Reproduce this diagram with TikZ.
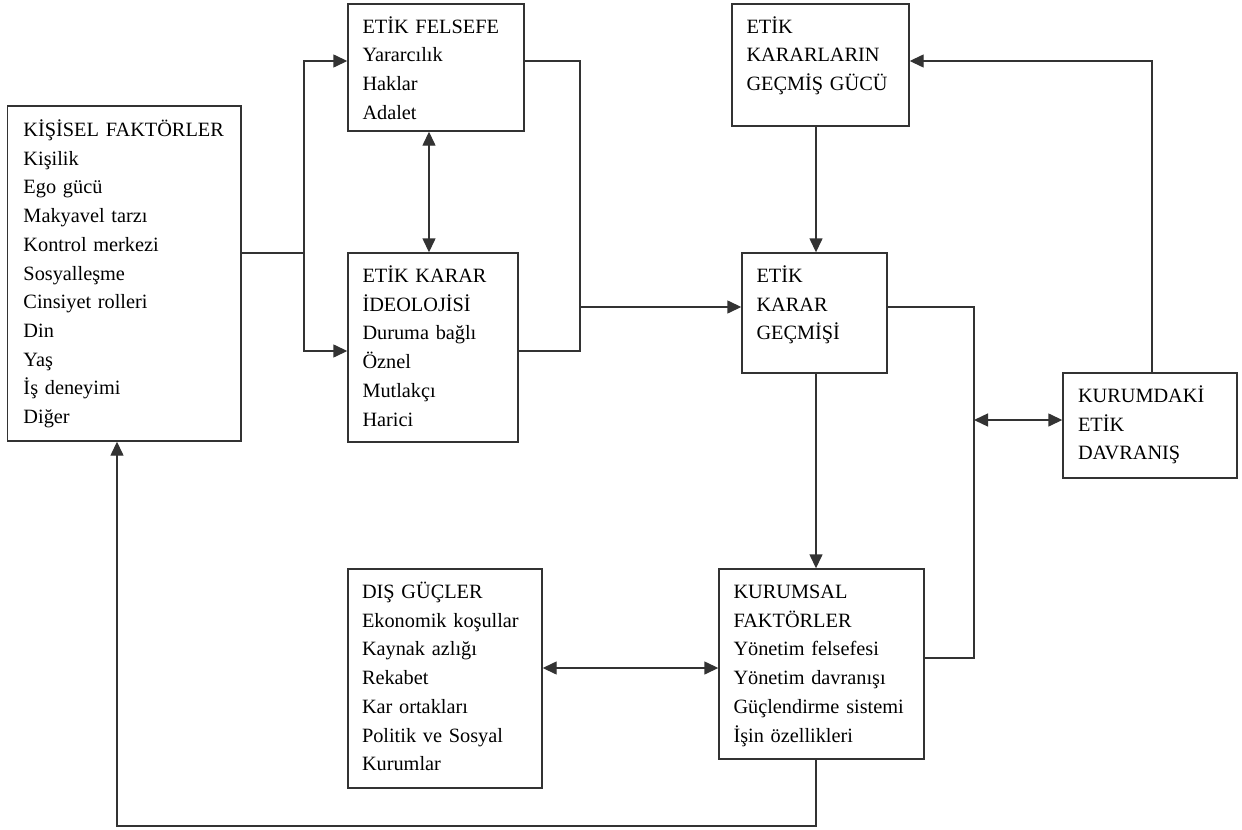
\documentclass[tikz,border=0pt]{standalone}
\usepackage{fontspec}
\setmainfont{Liberation Serif}
\usetikzlibrary{arrows.meta,calc}
\begin{document}
\begin{tikzpicture}[x=1bp,y=-1bp,
  box/.style={draw=black!80, line width=1.4bp, inner sep=0pt, rectangle},
  txt/.style={anchor=north west, inner sep=0pt, text width=230bp, align=left,
    font=\fontsize{20.3bp}{28.7bp}\selectfont},
  conn/.style={draw=black!80, line width=1.4bp},
  tip/.style={},
  arr/.style={conn, -{Triangle[length=14bp,width=13bp]}},
  darr/.style={conn, {Triangle[length=14bp,width=13bp]}-{Triangle[length=14bp,width=13bp]}}]
\useasboundingbox (0,0) rectangle (1242,830);

% boxes
\node[box, minimum width=233.5bp, minimum height=335bp] (kf) at (124.25,273.5) {};
\node[box, minimum width=176bp, minimum height=127bp] (ef) at (436,67.5) {};
\node[box, minimum width=170bp, minimum height=189bp] (ei) at (433,347.5) {};
\node[box, minimum width=177bp, minimum height=122bp] (eg) at (820.5,65) {};
\node[box, minimum width=145bp, minimum height=120bp] (ek) at (814.5,313) {};
\node[box, minimum width=174bp, minimum height=105bp] (kd) at (1150,425.5) {};
\node[box, minimum width=194bp, minimum height=219bp] (dg) at (445,678.5) {};
\node[box, minimum width=205bp, minimum height=190bp] (kk) at (821.5,664) {};

% texts
\node[txt] (kft) at ($(kf.north west)+(16.5,11)$) {\strut KİŞİSEL FAKTÖRLER\\Kişilik\\Ego gücü\\Makyavel tarzı\\Kontrol merkezi\\Sosyalleşme\\Cinsiyet rolleri\\Din\\Yaş\\İş deneyimi\\Diğer};
\node[txt] (eft) at ($(ef.north west)+(15,9.6)$) {\strut ETİK FELSEFE\\Yararcılık\\Haklar\\Adalet};
\node[txt] (eit) at ($(ei.north west)+(15,10)$) {\strut ETİK KARAR\\İDEOLOJİSİ\\Duruma bağlı\\Öznel\\Mutlakçı\\Harici};
\node[txt] (egt) at ($(eg.north west)+(15,9.6)$) {\strut ETİK\\KARARLARIN\\GEÇMİŞ GÜCÜ};
\node[txt] (ekt) at ($(ek.north west)+(15,10)$) {\strut ETİK\\KARAR\\GEÇMİŞİ};
\node[txt] (kdt) at ($(kd.north west)+(15.5,10)$) {\strut KURUMDAKİ\\ETİK\\DAVRANIŞ};
\node[txt] (dgt) at ($(dg.north west)+(14.5,10)$) {\strut DIŞ GÜÇLER\\Ekonomik koşullar\\Kaynak azlığı\\Rekabet\\Kar ortakları\\Politik ve Sosyal\\Kurumlar};
\node[txt] (kkt) at ($(kk.north west)+(15,10)$) {\strut KURUMSAL\\FAKTÖRLER\\Yönetim felsefesi\\Yönetim davranışı\\Güçlendirme sistemi\\İşin özellikleri};

% helper rows and columns
\coordinate (y61) at (0,61);
\coordinate (y253) at (0,253);
\coordinate (y307) at (0,307);
\coordinate (y351) at (0,351);
\coordinate (y420) at (0,420);
\coordinate (y658) at (0,658);
\coordinate (y668) at (0,668);
\coordinate (y826) at (0,826);
\coordinate (x117) at (117,0);
\coordinate (x304) at (304,0);
\coordinate (x429) at (429,0);
\coordinate (x580) at (580,0);
\coordinate (x816) at (816,0);
\coordinate (x974) at (974,0);
\coordinate (x1152) at (1152,0);

% connectors
\draw[conn] (kf.east |- y253) -- (x304 |- y253);
\draw[arr] (x304 |- y253) |- (ef.west |- y61);
\draw[arr] (x304 |- y253) |- (ei.west |- y351);
\draw[darr] (x429 |- ef.south) -- (x429 |- ei.north);
\draw[conn] (ef.east |- y61) -| (x580 |- y351) -- (ei.east |- y351);
\draw[arr] (x580 |- y307) -- (ek.west |- y307);
\draw[arr] (x816 |- eg.south) -- (x816 |- ek.north);
\draw[conn] (ek.east |- y307) -| (x974 |- y658) -- (kk.east |- y658);
\draw[darr] (x974 |- y420) -- (kd.west |- y420);
\draw[arr] (x1152 |- kd.north) |- (eg.east |- y61);
\draw[arr] (x816 |- ek.south) -- (x816 |- kk.north);
\draw[darr] (dg.east |- y668) -- (kk.west |- y668);
\draw[arr] (x816 |- kk.south) |- (x117 |- y826) -- (x117 |- kf.south);
\end{tikzpicture}
\end{document}
